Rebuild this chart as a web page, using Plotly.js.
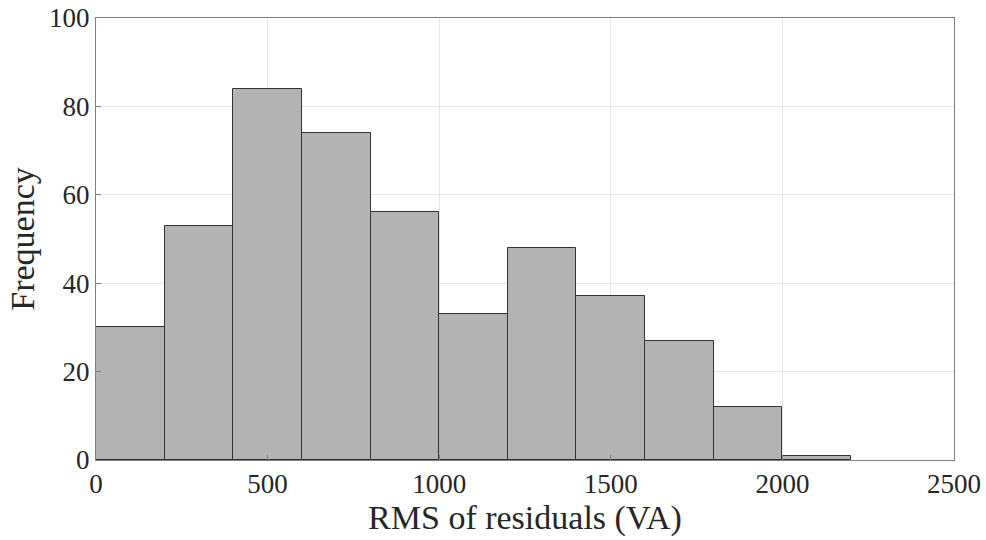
<!DOCTYPE html>
<html><head><meta charset="utf-8">
<script src="https://cdn.plot.ly/plotly-3.0.1.min.js"></script>
<style>body{margin:0;background:#fff}#c{width:986px;height:540px}</style>
</head><body><div id="c"></div>
<script>
const binStarts = [0,200,400,600,800,1000,1200,1400,1600,1800,2000];
const binWidth = 200;
const counts = [30,53,84,74,56,33,48,37,27,12,1];
const xTicks = [0,500,1000,1500,2000,2500];
const yTicks = [0,20,40,60,80,100];

const trace = {
  type:'bar',
  x: binStarts.map(s=>s+binWidth/2),
  y: counts,
  width: binStarts.map(()=>binWidth),
  marker:{color:'#b3b3b3', line:{color:'#333333', width:1}},
  hoverinfo:'x+y'
};
const font = {family:'"Liberation Serif", "Times New Roman", serif', color:'#262626', size:27};
const layout = {
  width:986, height:540,
  margin:{l:96, r:32, t:18, b:80},
  paper_bgcolor:'#fff', plot_bgcolor:'#fff',
  font: font,
  showlegend:false,
  bargap:0,
  xaxis:{
    range:[0,2500], tickvals:xTicks, ticktext:xTicks.map(String),
    showgrid:true, gridcolor:'#e6e6e6', gridwidth:1,
    showline:true, linecolor:'#808080', linewidth:1, mirror:true,
    ticks:'inside', ticklen:5, tickcolor:'#808080', zeroline:false,
    tickfont:{size:27},
    title:{text:'RMS of residuals (VA)', font:{size:34}, standoff:4}
  },
  yaxis:{
    range:[0,100], tickvals:yTicks, ticktext:yTicks.map(String),
    showgrid:true, gridcolor:'#e6e6e6', gridwidth:1,
    showline:true, linecolor:'#808080', linewidth:1, mirror:true,
    ticks:'inside', ticklen:5, tickcolor:'#808080', zeroline:false,
    tickfont:{size:27},
    title:{text:'Frequency', font:{size:34}, standoff:4}
  }
};
Plotly.newPlot('c',[trace],layout,{displayModeBar:false});
</script></body></html>
